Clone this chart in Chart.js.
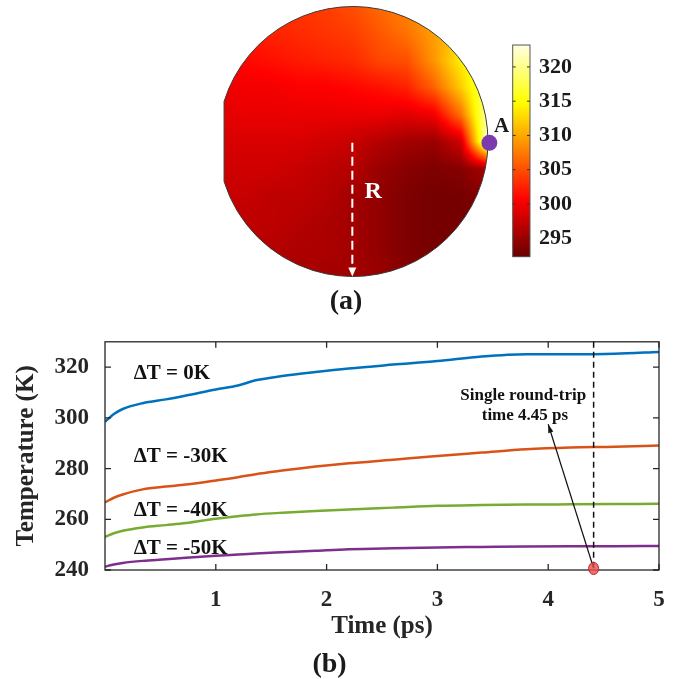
<!DOCTYPE html>
<html>
<head>
<meta charset="utf-8">
<script src="https://cdn.jsdelivr.net/npm/chart.js@4.4.0/dist/chart.umd.min.js"></script>
<style>
  html, body { margin: 0; padding: 0; background: #fff; }
  #wrapA { position: absolute; left: 0; top: 0; width: 692px; height: 320px; }
  #wrapB { position: absolute; left: 0; top: 320px; width: 692px; height: 359px; }
</style>
</head>
<body>
<div id="wrapA"><canvas id="diskChart"></canvas></div>
<div id="wrapB"><canvas id="tempChart"></canvas></div>
<script>
// ---- panel (b) data ----
const time = [0, 0.08, 0.16, 0.34, 0.55, 0.73, 1.0, 1.2, 1.36, 1.6, 1.9, 2.2, 2.6, 3.0, 3.4, 3.8, 4.2, 4.6, 5.0];
const dT0  = [298.4, 301.5, 303.5, 305.8, 307.3, 308.8, 311.2, 312.8, 314.8, 316.5, 318.1, 319.5, 321.0, 322.4, 324.2, 325.1, 325.1, 325.3, 326.0];
const dT30 = [266.7, 268.5, 269.8, 271.8, 272.9, 273.7, 275.3, 276.6, 277.8, 279.2, 280.8, 282.1, 283.5, 285.0, 286.3, 287.6, 288.3, 288.6, 289.1];
const dT40 = [253.0, 254.5, 255.5, 256.8, 257.7, 258.5, 260.2, 261.2, 261.9, 262.6, 263.3, 263.9, 264.6, 265.3, 265.6, 265.8, 265.9, 266.0, 266.1];
const dT50 = [241.3, 242.2, 242.8, 243.6, 244.2, 244.8, 245.6, 246.1, 246.5, 247.0, 247.6, 248.2, 248.6, 248.9, 249.1, 249.3, 249.4, 249.4, 249.5];
const seriesNames = ['ΔT = 0K', 'ΔT = -30K', 'ΔT = -40K', 'ΔT = -50K'];
const seriesColors = ['#0072BD', '#D95319', '#77AC30', '#7E2F8E'];
const xTicks = [1, 2, 3, 4, 5];
const yTicks = [240, 260, 280, 300, 320];
const roundTrip = 4.41;

// ---- panel (a) data: temperature (K) on a grid over the disk (x,y in units of radius) ----
const gridX = [-1, -0.8, -0.6, -0.4, -0.2, 0, 0.2, 0.4, 0.6, 0.8, 1];
const gridY = [1, 0.8, 0.6, 0.4, 0.2, 0, -0.2, -0.4, -0.6, -0.8, -1];
const fieldT = [
  [302, 302.5, 303, 303.5, 304, 305, 306.5, 308, 310, 312, 314],
  [301.5, 302, 302.5, 303, 303.5, 304, 305.5, 307, 309.5, 312, 315],
  [300.5, 301, 301.5, 302, 302.5, 303, 304.5, 305, 309, 314, 317],
  [299.5, 300, 300, 300.5, 300.5, 301, 301.5, 302.5, 306, 312, 319],
  [299, 299.5, 299.5, 299.5, 299.5, 299.5, 299.5, 299, 300, 307, 321],
  [298.5, 298.5, 298.5, 298.5, 298, 297.5, 296.5, 295.5, 295, 298, 323],
  [298, 298, 298, 297.5, 297, 296.5, 295, 294, 293.5, 294, 296],
  [297.5, 297.5, 297, 297, 296.5, 295.5, 294.5, 293.5, 293, 293, 294],
  [297, 297, 297, 296.5, 296, 295.5, 294.5, 293.5, 293, 293, 293],
  [296.5, 296.5, 296.5, 296, 296, 295.5, 294.5, 293.5, 293, 293, 293],
  [296, 296, 296, 296, 295.5, 295.5, 295, 294, 293.5, 293.5, 293.5]
];
const cbTicks = [295, 300, 305, 310, 315, 320];
const cbMin = 292.3, cbMax = 323.2;   // colour limits
const chordX = -0.955;                // flat cut on the left of the disk

Chart.defaults.font.family = "'Liberation Serif', 'Times New Roman', serif";
Chart.defaults.font.weight = 'bold';
Chart.defaults.color = '#262626';

// MATLAB-like "hot" map, only the part used by the colour bar
function hotColor(t) {
  let f = 0.155 + (t - cbMin) / (cbMax - cbMin) * 0.815;
  f = Math.max(0, Math.min(1, f));
  const r = Math.min(1, f / 0.375);
  const g = Math.max(0, Math.min(1, (f - 0.375) / 0.375));
  const b = Math.max(0, Math.min(1, (f - 0.75) / 0.25));
  return [r * 255, g * 255, b * 255];
}

function fieldAt(vx, vy) {
  const step = gridX[1] - gridX[0];
  let fi = (vx - gridX[0]) / step, fj = (gridY[0] - vy) / step;
  fi = Math.max(0, Math.min(gridX.length - 1.0001, fi));
  fj = Math.max(0, Math.min(gridY.length - 1.0001, fj));
  const i = Math.floor(fi), j = Math.floor(fj), u = fi - i, v = fj - j;
  return fieldT[j][i] * (1 - u) * (1 - v) + fieldT[j][i + 1] * u * (1 - v)
       + fieldT[j + 1][i] * (1 - u) * v + fieldT[j + 1][i + 1] * u * v;
}

function diskPath(ctx, cx, cy, r, chordPx) {
  const a = Math.acos((chordPx - cx) / r);
  ctx.beginPath();
  ctx.arc(cx, cy, r, -a, a, false);
  ctx.closePath();
}

const fieldPlugin = {
  id: 'field',
  beforeDatasetsDraw(chart) {
    const { ctx, scales: { x, y, cb } } = chart;
    const cx = x.getPixelForValue(0), cy = y.getPixelForValue(0);
    const r = x.getPixelForValue(1) - cx;
    const x0 = Math.floor(cx - r) - 1, y0 = Math.floor(cy - r) - 1;
    const w = Math.ceil(2 * r) + 3, h = w;
    const off = document.createElement('canvas');
    off.width = w; off.height = h;
    const octx = off.getContext('2d');
    const img = octx.createImageData(w, h);
    for (let j = 0; j < h; j++) {
      const vy = y.getValueForPixel(y0 + j + 0.5);
      for (let i = 0; i < w; i++) {
        const vx = x.getValueForPixel(x0 + i + 0.5);
        const c = hotColor(fieldAt(vx, vy));
        const k = (j * w + i) * 4;
        img.data[k] = c[0]; img.data[k + 1] = c[1]; img.data[k + 2] = c[2]; img.data[k + 3] = 255;
      }
    }
    octx.putImageData(img, 0, 0);
    const chordPx = x.getPixelForValue(chordX);
    ctx.save();
    diskPath(ctx, cx, cy, r, chordPx);
    ctx.clip();
    ctx.drawImage(off, x0, y0);
    ctx.restore();
    ctx.save();
    diskPath(ctx, cx, cy, r, chordPx);
    ctx.strokeStyle = '#3a3a3a';
    ctx.lineWidth = 1;
    ctx.stroke();
    ctx.restore();

    // colour bar
    const bl = x.getPixelForValue(1.183), br = x.getPixelForValue(1.311);
    const bt = cb.getPixelForValue(cbMax), bb = cb.getPixelForValue(cbMin);
    ctx.save();
    for (let py = Math.floor(bt); py < bb; py++) {
      const c = hotColor(cb.getValueForPixel(py + 0.5));
      ctx.fillStyle = 'rgb(' + c.map(Math.round).join(',') + ')';
      ctx.fillRect(bl, py, br - bl, 1);
    }
    ctx.strokeStyle = '#555';
    ctx.lineWidth = 1;
    ctx.strokeRect(bl, bt, br - bl, bb - bt);
    ctx.beginPath();
    cbTicks.forEach(v => {
      const py = cb.getPixelForValue(v);
      ctx.moveTo(bl, py); ctx.lineTo(bl + 3, py);
      ctx.moveTo(br, py); ctx.lineTo(br - 3, py);
    });
    ctx.strokeStyle = '#333';
    ctx.stroke();
    ctx.fillStyle = '#1a1a1a';
    ctx.font = "bold 22px 'Liberation Serif', serif";
    ctx.textAlign = 'left';
    ctx.textBaseline = 'middle';
    cbTicks.forEach(v => ctx.fillText(String(v), br + 9, cb.getPixelForValue(v)));
    ctx.restore();
  },
  afterDatasetsDraw(chart) {
    const { ctx, scales: { x, y } } = chart;
    ctx.save();
    // arrow head of the radius marker
    const ax = x.getPixelForValue(-0.005), ay = y.getPixelForValue(-1);
    ctx.fillStyle = '#fff';
    ctx.beginPath();
    ctx.moveTo(ax, ay);
    ctx.lineTo(ax - 4, ay - 9);
    ctx.lineTo(ax + 4, ay - 9);
    ctx.closePath();
    ctx.fill();
    ctx.textAlign = 'center';
    ctx.textBaseline = 'middle';
    ctx.font = "bold 24px 'Liberation Serif', serif";
    ctx.fillText('R', x.getPixelForValue(0.15), y.getPixelForValue(-0.372));
    ctx.fillStyle = '#1a1a1a';
    ctx.font = "bold 21px 'Liberation Serif', serif";
    ctx.fillText('A', x.getPixelForValue(1.101), y.getPixelForValue(0.11));
    ctx.restore();
  }
};

new Chart(document.getElementById('diskChart'), {
  type: 'scatter',
  data: {
    datasets: [
      {
        data: [{ x: -0.005, y: -0.01 }, { x: -0.005, y: -0.95 }],
        showLine: true,
        borderColor: '#fff',
        borderWidth: 2,
        borderDash: [9, 5],
        pointRadius: 0
      },
      {
        data: [{ x: 1.01, y: -0.01 }],
        pointRadius: 8,
        backgroundColor: '#7B3AAE',
        borderWidth: 0
      }
    ]
  },
  options: {
    responsive: true,
    maintainAspectRatio: false,
    animation: false,
    events: [],
    layout: { padding: 0, autoPadding: false },
    plugins: {
      legend: { display: false },
      tooltip: { enabled: false },
      title: {
        display: true, position: 'bottom', text: '(a)', color: '#1a1a1a',
        font: { size: 28, weight: 'bold', lineHeight: 1 },
        padding: { top: 0, bottom: 4 }
      }
    },
    scales: {
      x: { type: 'linear', display: false, min: -2.6148, max: 2.5111 },
      y: { type: 'linear', display: false, min: -1.0852, max: 1.0481 },
      cb: { type: 'linear', axis: 'y', display: false, min: 287.73, max: 329.77 }
    }
  },
  plugins: [fieldPlugin]
});

// ---- panel (b) ----
const annotatePlugin = {
  id: 'annotate',
  afterDatasetsDraw(chart) {
    const { ctx, chartArea: a, scales: { x, y } } = chart;
    ctx.save();
    // box and inward ticks
    ctx.strokeStyle = '#262626';
    ctx.lineWidth = 1.3;
    ctx.strokeRect(a.left, a.top, a.right - a.left, a.bottom - a.top);
    ctx.beginPath();
    xTicks.forEach(v => {
      const px = x.getPixelForValue(v);
      ctx.moveTo(px, a.bottom); ctx.lineTo(px, a.bottom - 6);
      ctx.moveTo(px, a.top); ctx.lineTo(px, a.top + 6);
    });
    yTicks.forEach(v => {
      const py = y.getPixelForValue(v);
      ctx.moveTo(a.left, py); ctx.lineTo(a.left + 6, py);
      ctx.moveTo(a.right, py); ctx.lineTo(a.right - 6, py);
    });
    ctx.stroke();

    // round-trip marker
    const rx = x.getPixelForValue(roundTrip);
    ctx.setLineDash([6, 4]);
    ctx.lineWidth = 1.5;
    ctx.strokeStyle = '#111';
    ctx.beginPath();
    ctx.moveTo(rx, a.top); ctx.lineTo(rx, a.bottom);
    ctx.stroke();
    ctx.setLineDash([]);

    // arrow from the red mark to the note
    const sx = rx, sy = y.getPixelForValue(240.7);
    const ex = x.getPixelForValue(4.0), ey = y.getPixelForValue(297.5);
    ctx.lineWidth = 1.2;
    ctx.beginPath();
    ctx.moveTo(sx, sy); ctx.lineTo(ex, ey);
    ctx.stroke();
    const ang = Math.atan2(ey - sy, ex - sx);
    ctx.fillStyle = '#111';
    ctx.beginPath();
    ctx.moveTo(ex, ey);
    ctx.lineTo(ex - 9 * Math.cos(ang - 0.3), ey - 9 * Math.sin(ang - 0.3));
    ctx.lineTo(ex - 9 * Math.cos(ang + 0.3), ey - 9 * Math.sin(ang + 0.3));
    ctx.closePath();
    ctx.fill();

    ctx.beginPath();
    ctx.ellipse(rx, y.getPixelForValue(240.6), 5, 6, 0, 0, Math.PI * 2);
    ctx.fillStyle = 'rgba(232,80,80,0.8)';
    ctx.fill();
    ctx.strokeStyle = '#c02020';
    ctx.lineWidth = 1;
    ctx.stroke();

    ctx.fillStyle = '#111';
    ctx.textAlign = 'center';
    ctx.textBaseline = 'middle';
    ctx.font = "bold 17px 'Liberation Serif', serif";
    ctx.fillText('Single round-trip', x.getPixelForValue(3.775), y.getPixelForValue(308.6));
    ctx.fillText('time 4.45 ps', x.getPixelForValue(3.79), y.getPixelForValue(300.7));

    // curve labels
    ctx.textAlign = 'left';
    ctx.font = "bold 21px 'Liberation Serif', serif";
    const labelY = [317.4, 284.6, 263.6, 248.4];
    seriesNames.forEach((s, i) => ctx.fillText(s, x.getPixelForValue(0.259), y.getPixelForValue(labelY[i])));
    ctx.restore();
  }
};

const series = [dT0, dT30, dT40, dT50];
new Chart(document.getElementById('tempChart'), {
  type: 'line',
  data: {
    datasets: series.map((s, i) => ({
      label: seriesNames[i],
      data: time.map((t, k) => ({ x: t, y: s[k] })),
      borderColor: seriesColors[i],
      borderWidth: 2.5,
      pointRadius: 0,
      cubicInterpolationMode: 'monotone',
      fill: false
    }))
  },
  options: {
    responsive: true,
    maintainAspectRatio: false,
    animation: false,
    events: [],
    layout: { padding: { top: 13, right: 33, left: 0, bottom: 0 }, autoPadding: false },
    plugins: {
      legend: { display: false },
      tooltip: { enabled: false },
      title: {
        display: true, position: 'bottom', text: '(b)', color: '#1a1a1a',
        font: { size: 28, weight: 'bold', lineHeight: 1 },
        padding: { top: 0, bottom: 0 }
      }
    },
    scales: {
      x: {
        type: 'linear', min: 0, max: 5,
        grid: { display: false }, border: { display: false },
        afterBuildTicks: s => { s.ticks = xTicks.map(v => ({ value: v })); },
        afterFit: s => { s.height = 81; },
        ticks: { font: { size: 23, weight: 'bold' }, color: '#262626', padding: 8, maxRotation: 0 },
        title: { display: true, text: 'Time (ps)', color: '#262626', font: { size: 25, weight: 'bold' }, padding: { top: 0, bottom: 9 } }
      },
      y: {
        type: 'linear', min: 240, max: 330,
        grid: { display: false }, border: { display: false },
        afterBuildTicks: s => { s.ticks = yTicks.map(v => ({ value: v })); },
        afterFit: s => { s.width = 105; },
        ticks: { font: { size: 23, weight: 'bold' }, color: '#262626', padding: 8 },
        title: { display: true, text: 'Temperature (K)', color: '#262626', font: { size: 25, weight: 'bold' }, padding: { top: 12, bottom: 0 } }
      }
    }
  },
  plugins: [annotatePlugin]
});
</script>
</body>
</html>
